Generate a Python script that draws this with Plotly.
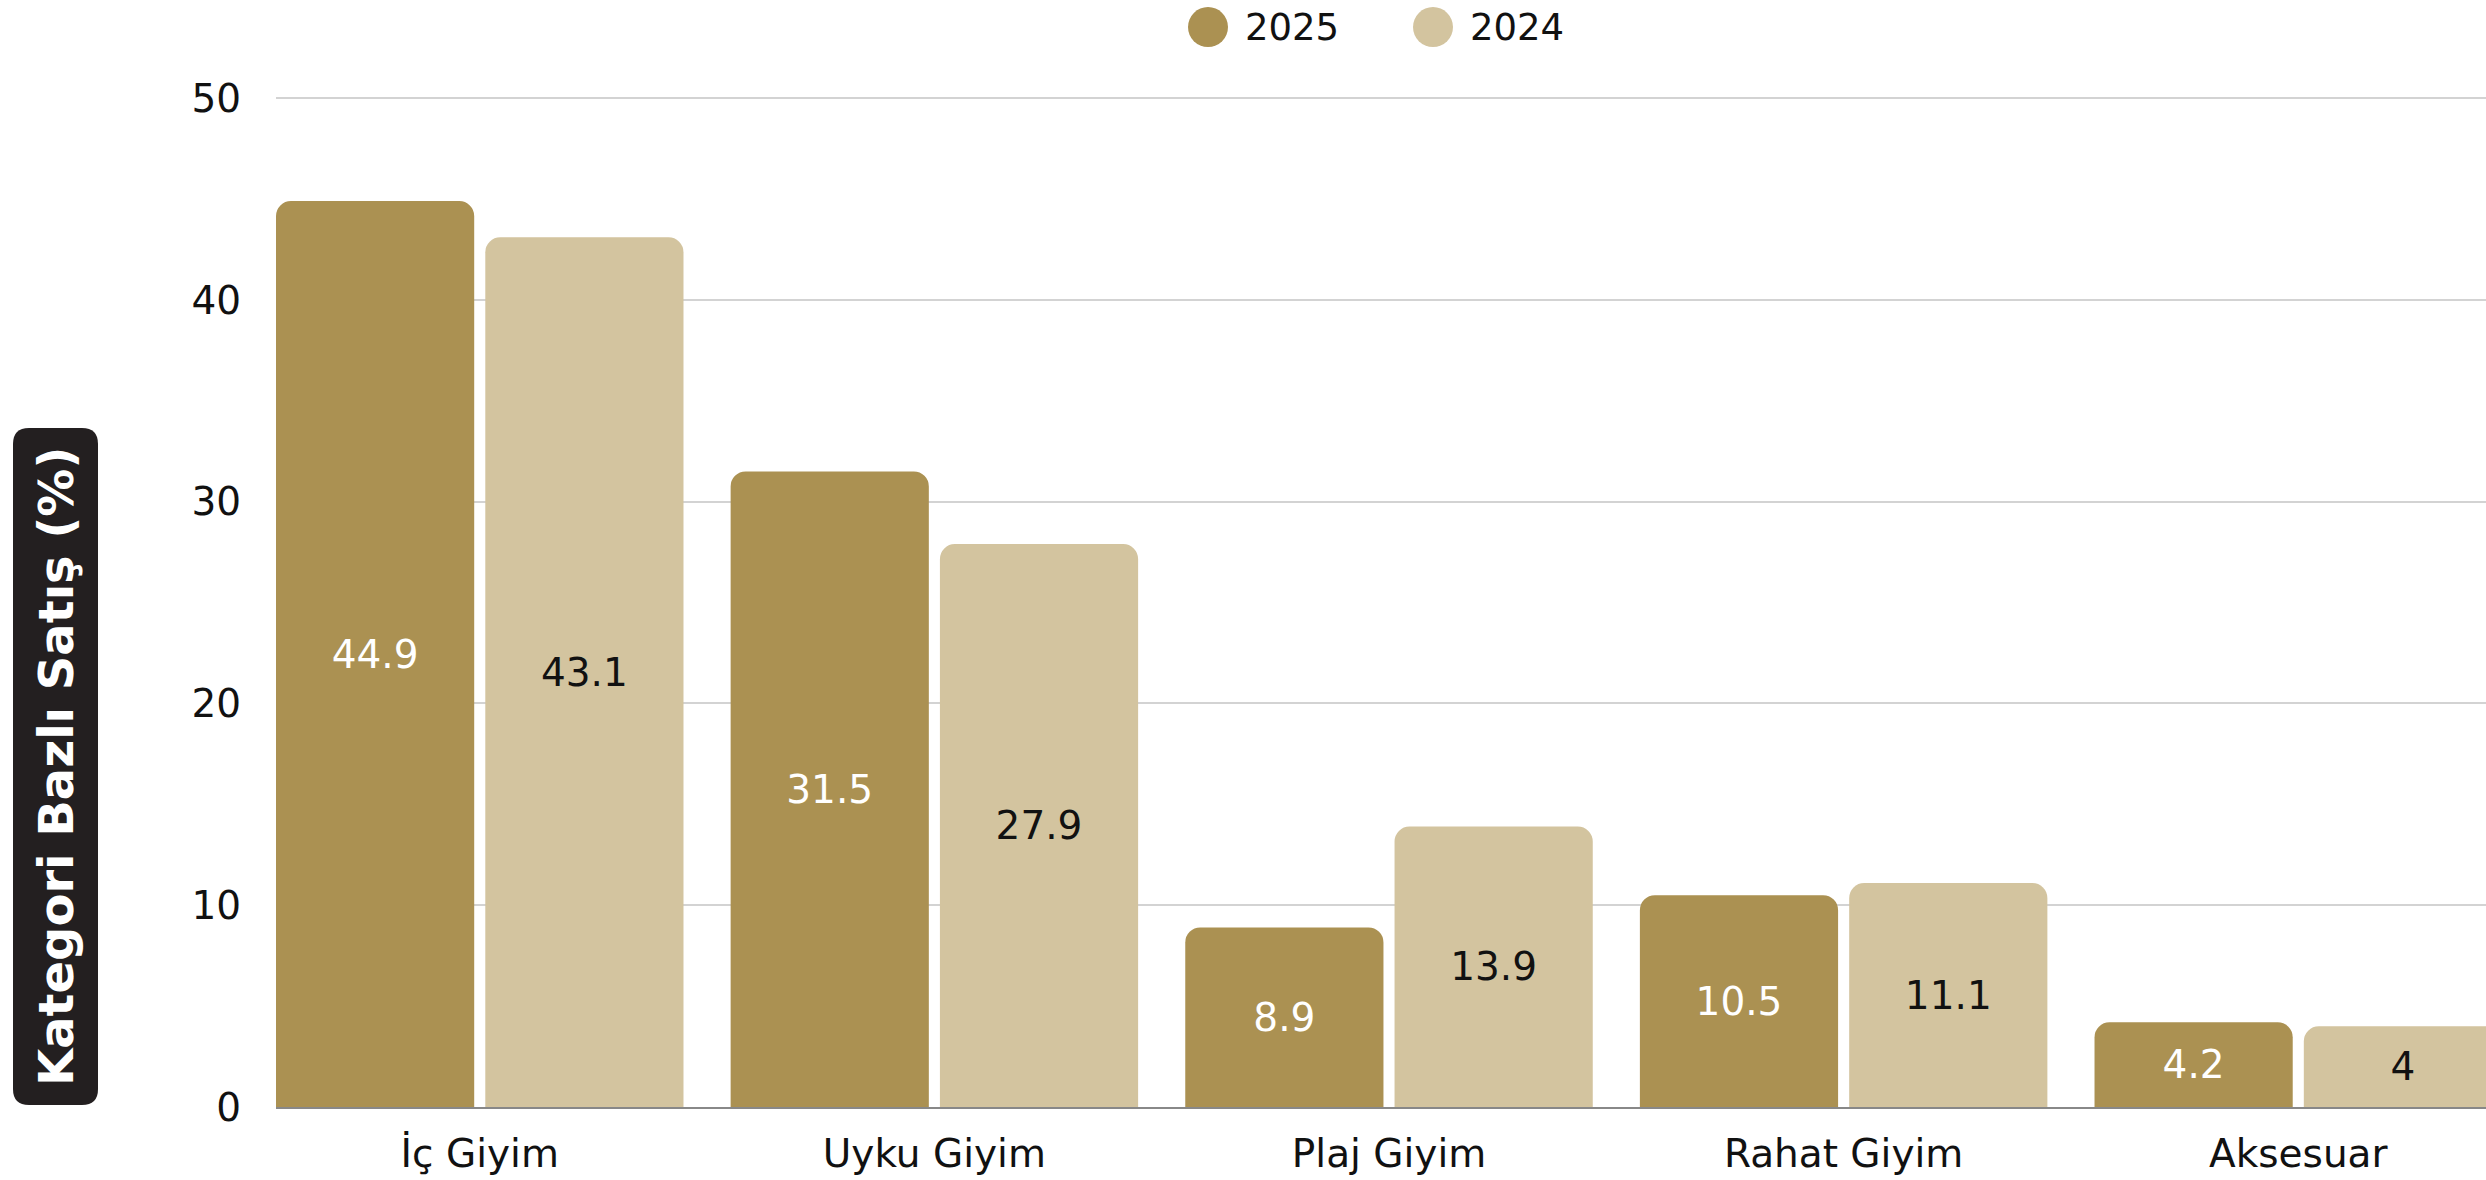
import plotly.graph_objects as go

categories = ["İç Giyim", "Uyku Giyim", "Plaj Giyim", "Rahat Giyim", "Aksesuar"]
values_2025 = [44.9, 31.5, 8.9, 10.5, 4.2]
values_2024 = [43.1, 27.9, 13.9, 11.1, 4]
series_names = ["2025", "2024"]
y_ticks = [0, 10, 20, 30, 40, 50]

C25 = "#AB9152"
C24 = "#D3C49F"
FONT = "DejaVu Sans"
FS = 39

OFF = 0  # page body margin removed via post_script
W, H = 2486 - OFF, 1180 - OFF
ZERO_Y = 1107 - OFF      # pixel of y=0 in figure coords
UNIT = (1107 - 98) / 50  # pixels per y unit
YMAX = 50.5
ML = 276 - OFF
MR = 0
MB = H - ZERO_Y
PH = UNIT * YMAX
MT = H - MB - PH
PW = W - ML - MR

BARGAP = 0.0793
GROUPGAP = 0.053
CAT_PX = 286.75 * 2486 / 1568
slot = (1 - BARGAP) / 2
XMIN = -0.5 + BARGAP / 2 + slot * GROUPGAP / 2

def px(x):
    return (x - OFF - ML) / PW

def py(y):
    return (H - MB - (y - OFF)) / PH

xs = list(range(len(categories)))

fig = go.Figure()
fig.add_trace(go.Bar(
    x=xs, y=values_2025, name=series_names[0],
    marker=dict(color=C25, cornerradius=15, line=dict(width=0)),
    text=[f"{v:g}" for v in values_2025], textposition="inside",
    insidetextanchor="middle", textangle=0,
    insidetextfont=dict(color="white", size=FS, family=FONT),
    showlegend=False, hoverinfo="skip",
))
fig.add_trace(go.Bar(
    x=xs, y=values_2024, name=series_names[1],
    marker=dict(color=C24, cornerradius=15, line=dict(width=0)),
    text=[f"{v:g}" for v in values_2024], textposition="inside",
    insidetextanchor="middle", textangle=0,
    insidetextfont=dict(color="#111111", size=FS, family=FONT),
    showlegend=False, hoverinfo="skip",
))

shapes = []
annotations = []

# legend (manual circles + labels), coordinates in screen pixels
leg = [(1208, C25, series_names[0]), (1433, C24, series_names[1])]
for cx, col, name in leg:
    r = 20
    cy = 27
    shapes.append(dict(type="circle", xref="paper", yref="paper",
                       x0=px(cx - r), x1=px(cx + r), y0=py(cy + r), y1=py(cy - r),
                       fillcolor=col, line=dict(width=0)))
    annotations.append(dict(text=name, xref="paper", yref="paper",
                            x=px(cx + 36), y=py(cy), xanchor="left", yanchor="middle",
                            borderpad=0, showarrow=False,
                            font=dict(size=37, color="#111111", family=FONT)))

# y-axis title in rounded black box
x0b, x1b, y0b, y1b, r = 13, 98, 428, 1105, 16
rx, ry = r / PW, r / PH
X0, X1, Y0, Y1 = px(x0b), px(x1b), py(y1b), py(y0b)
path = (f"M {X0+rx},{Y0} L {X1-rx},{Y0} Q {X1},{Y0} {X1},{Y0+ry} "
        f"L {X1},{Y1-ry} Q {X1},{Y1} {X1-rx},{Y1} L {X0+rx},{Y1} "
        f"Q {X0},{Y1} {X0},{Y1-ry} L {X0},{Y0+ry} Q {X0},{Y0} {X0+rx},{Y0} Z")
shapes.append(dict(type="path", path=path, xref="paper", yref="paper",
                   fillcolor="#231F20", line=dict(width=0)))
annotations.append(dict(text="<b>Kategori Bazlı Satış (%)</b>", xref="paper", yref="paper",
                        x=px((x0b + x1b) / 2), y=py((y0b + y1b) / 2),
                        xanchor="center", yanchor="middle", textangle=-90,
                        showarrow=False, font=dict(size=48, color="white", family=FONT)))

fig.update_layout(
    width=W, height=H,
    margin=dict(l=ML, r=MR, t=MT, b=MB, pad=0),
    paper_bgcolor="white", plot_bgcolor="white",
    barmode="group", bargap=BARGAP, bargroupgap=GROUPGAP,
    font=dict(family=FONT, size=FS, color="#111111"),
    showlegend=False,
    shapes=shapes, annotations=annotations,
)
fig.update_xaxes(
    range=[XMIN, XMIN + PW / CAT_PX], tickvals=xs, ticktext=categories,
    showgrid=False, showline=True, linecolor="#888888", linewidth=2,
    layer="below traces", ticks="outside", ticklen=11, tickcolor="rgba(0,0,0,0)",
    tickfont=dict(size=FS, family=FONT, color="#111111"), zeroline=False,
)
fig.update_yaxes(
    range=[0, YMAX], tickvals=y_ticks, showgrid=True, gridcolor="#D3D3D3", gridwidth=1.5,
    zeroline=False, showline=False, ticks="outside", ticklen=26, tickcolor="rgba(0,0,0,0)",
    tickfont=dict(size=FS, family=FONT, color="#111111"),
)

fig.write_html(
    "out.html",
    config={"displayModeBar": False},
    post_script="document.body.style.margin='0px';document.body.style.overflow='hidden';",
)
